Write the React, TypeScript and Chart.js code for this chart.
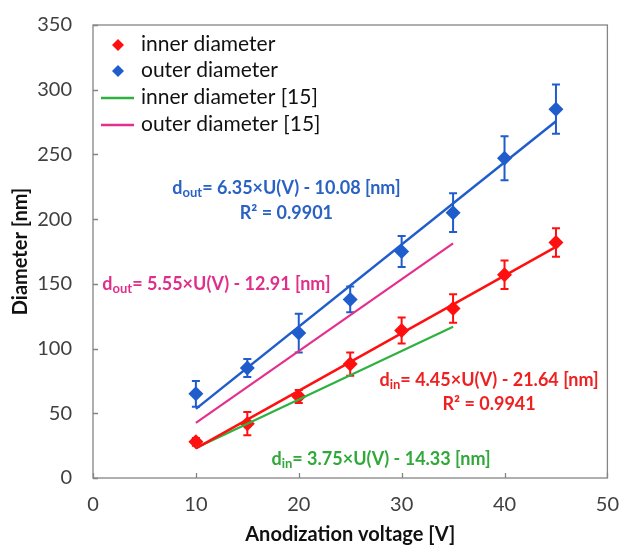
import React, { useEffect, useRef } from "react";
import { Chart, registerables } from "chart.js";

Chart.register(...registerables);

const voltages = [10, 15, 20, 25, 30, 35, 40, 45];
const innerMean = [28, 42, 63, 88, 114, 131, 157, 182];
const innerErr = [3, 9, 5, 9, 10, 11, 11, 11];
const outerMean = [65, 85, 112, 138, 175, 205, 247, 285];
const outerErr = [10, 7, 15, 10, 12, 15, 17, 19];

const fitX = [10, 45];
const innerFitY = [22.9, 178.6];
const outerFitY = [53.4, 275.7];
const refX = [10, 35];
const refInnerY = [23.2, 116.9];
const refOuterY = [42.6, 181.3];

const xTicks = [0, 10, 20, 30, 40, 50];
const yTicks = [0, 50, 100, 150, 200, 250, 300, 350];

const legendLabels = ["inner diameter", "outer diameter", "inner diameter [15]", "outer diameter [15]"];

const RED = "#ff1010";
const BLUE = "#1f5ccc";
const GREEN = "#2fb140";
const PINK = "#e4308c";

const FONT = "Lato, 'Open Sans', sans-serif";

type Piece = { t: string; sub?: boolean };
type Annot = { x: number; y: number; color: string; pieces: Piece[] };

const annotations: Annot[] = [
  { x: 18.8, y: 224, color: "#2a62c4", pieces: [{ t: "d" }, { t: "out", sub: true }, { t: "= 6.35×U(V) - 10.08 [nm]" }] },
  { x: 18.8, y: 205, color: "#2a62c4", pieces: [{ t: "R² = 0.9901" }] },
  { x: 12.0, y: 150, color: "#e02f8a", pieces: [{ t: "d" }, { t: "out", sub: true }, { t: "= 5.55×U(V) - 12.91 [nm]" }] },
  { x: 38.5, y: 76, color: "#ee2020", pieces: [{ t: "d" }, { t: "in", sub: true }, { t: "= 4.45×U(V) - 21.64 [nm]" }] },
  { x: 38.5, y: 57, color: "#ee2020", pieces: [{ t: "R² = 0.9941" }] },
  { x: 28.0, y: 15, color: "#30a83a", pieces: [{ t: "d" }, { t: "in", sub: true }, { t: "= 3.75×U(V) - 14.33 [nm]" }] },
];

function diamond(ctx: CanvasRenderingContext2D, x: number, y: number, r: number, color: string) {
  ctx.save();
  ctx.fillStyle = color;
  ctx.beginPath();
  ctx.moveTo(x, y - r);
  ctx.lineTo(x + r, y);
  ctx.lineTo(x, y + r);
  ctx.lineTo(x - r, y);
  ctx.closePath();
  ctx.fill();
  ctx.restore();
}

const customPlugin = {
  id: "custom",
  beforeDatasetsDraw(chart: any) {
    const { ctx, scales } = chart;
    const xs = scales.x;
    const ys = scales.y;
    const area = chart.chartArea;
    ctx.save();
    ctx.strokeStyle = "#858585";
    ctx.lineWidth = 1.3;
    ctx.strokeRect(area.left, area.top, area.right - area.left, area.bottom - area.top);
    ctx.beginPath();
    for (const v of xTicks) {
      const px = Math.round(xs.getPixelForValue(v)) + 0.5;
      ctx.moveTo(px, area.bottom);
      ctx.lineTo(px, area.bottom - 5);
    }
    for (const v of yTicks) {
      const py = Math.round(ys.getPixelForValue(v)) + 0.5;
      ctx.moveTo(area.left, py);
      ctx.lineTo(area.left + 5, py);
    }
    ctx.stroke();
    const drawErr = (means: number[], errs: number[], color: string) => {
      ctx.strokeStyle = color;
      ctx.lineWidth = 2;
      ctx.beginPath();
      voltages.forEach((v, i) => {
        const px = xs.getPixelForValue(v);
        const top = ys.getPixelForValue(means[i] + errs[i]);
        const bot = ys.getPixelForValue(means[i] - errs[i]);
        ctx.moveTo(px, top);
        ctx.lineTo(px, bot);
        ctx.moveTo(px - 4, top);
        ctx.lineTo(px + 4, top);
        ctx.moveTo(px - 4, bot);
        ctx.lineTo(px + 4, bot);
      });
      ctx.stroke();
    };
    drawErr(innerMean, innerErr, RED);
    drawErr(outerMean, outerErr, BLUE);
    ctx.restore();
  },
  afterDatasetsDraw(chart: any) {
    const { ctx, scales } = chart;
    const xs = scales.x;
    const ys = scales.y;
    const area = chart.chartArea;
    ctx.save();
    const lx = area.left;
    const ly = area.top;
    const rows = [ly + 20, ly + 46, ly + 73, ly + 100];
    ctx.font = `21px ${FONT}`;
    ctx.fillStyle = "#111";
    ctx.textBaseline = "middle";
    ctx.textAlign = "left";
    diamond(ctx, lx + 25, rows[0], 6, RED);
    diamond(ctx, lx + 25, rows[1], 6, BLUE);
    ctx.lineWidth = 2.5;
    ctx.strokeStyle = GREEN;
    ctx.beginPath();
    ctx.moveTo(lx + 8, rows[2]);
    ctx.lineTo(lx + 41, rows[2]);
    ctx.stroke();
    ctx.strokeStyle = PINK;
    ctx.beginPath();
    ctx.moveTo(lx + 8, rows[3]);
    ctx.lineTo(lx + 41, rows[3]);
    ctx.stroke();
    legendLabels.forEach((l, i) => {
      ctx.fillText(l, lx + 48, rows[i] - 1);
    });
    const big = `bold 18px ${FONT}`;
    const small = `bold 13px ${FONT}`;
    ctx.textBaseline = "alphabetic";
    for (const a of annotations) {
      let w = 0;
      for (const p of a.pieces) {
        ctx.font = p.sub ? small : big;
        w += ctx.measureText(p.t).width;
      }
      let cx = xs.getPixelForValue(a.x) - w / 2;
      const cy = ys.getPixelForValue(a.y) + 6;
      ctx.fillStyle = a.color;
      for (const p of a.pieces) {
        ctx.font = p.sub ? small : big;
        ctx.fillText(p.t, cx, p.sub ? cy + 3 : cy);
        cx += ctx.measureText(p.t).width;
      }
    }
    ctx.restore();
  },
};

export default function App() {
  const ref = useRef<HTMLCanvasElement>(null);
  useEffect(() => {
    document.body.style.margin = "0";
    const canvas = ref.current!;
    const mk = (xv: number[], yv: number[]) => xv.map((x, i) => ({ x, y: yv[i] }));
    const lineDs = (label: string, xv: number[], yv: number[], color: string, w: number) =>
      ({
        label,
        type: "line",
        data: mk(xv, yv),
        borderColor: color,
        borderWidth: w,
        pointRadius: 0,
        showLine: true,
      }) as any;
    const chart = new Chart(canvas, {
      type: "scatter",
      data: {
        datasets: [
          lineDs("inner fit", fitX, innerFitY, RED, 2.5),
          lineDs("outer fit", fitX, outerFitY, BLUE, 2.5),
          lineDs(legendLabels[2], refX, refInnerY, GREEN, 2.2),
          lineDs(legendLabels[3], refX, refOuterY, PINK, 2.2),
          {
            label: legendLabels[0],
            data: mk(voltages, innerMean),
            pointStyle: "rectRot",
            pointRadius: 7.5,
            backgroundColor: RED,
            borderColor: RED,
            borderWidth: 0,
          },
          {
            label: legendLabels[1],
            data: mk(voltages, outerMean),
            pointStyle: "rectRot",
            pointRadius: 7.5,
            backgroundColor: BLUE,
            borderColor: BLUE,
            borderWidth: 0,
          },
        ],
      },
      options: {
        animation: false,
        responsive: false,
        maintainAspectRatio: false,
        layout: { padding: { top: 21, right: 13, left: 0, bottom: 0 } },
        plugins: { legend: { display: false }, tooltip: { enabled: false } },
        scales: {
          x: {
            type: "linear",
            min: 0,
            max: 50,
            afterBuildTicks: (s: any) => {
              s.ticks = xTicks.map((v) => ({ value: v }));
            },
            afterFit: (s: any) => {
              s.height = 69;
            },
            grid: { display: false },
            border: { display: false },
            ticks: {
              padding: 7,
              color: "#404040",
              font: { family: FONT, size: 20 },
            },
            title: {
              display: true,
              text: "Anodization voltage [V]",
              color: "#111",
              font: { family: FONT, size: 20, weight: "bold" },
              padding: { top: 0, bottom: 0 },
            },
          },
          y: {
            type: "linear",
            min: 0,
            max: 350,
            afterBuildTicks: (s: any) => {
              s.ticks = yTicks.map((v) => ({ value: v }));
            },
            afterFit: (s: any) => {
              s.width = 93;
            },
            grid: { display: false },
            border: { display: false },
            ticks: {
              padding: 13,
              color: "#404040",
              font: { family: FONT, size: 20 },
            },
            title: {
              display: true,
              text: "Diameter [nm]",
              color: "#111",
              font: { family: FONT, size: 20, weight: "bold" },
              padding: { top: 9, bottom: 0 },
            },
          },
        },
      },
      plugins: [customPlugin],
    } as any);
    return () => chart.destroy();
  }, []);
  return (
    <div style={{ width: 626, height: 547, background: "#fff" }}>
      <canvas ref={ref} width={626} height={547} style={{ display: "block" }} />
    </div>
  );
}
